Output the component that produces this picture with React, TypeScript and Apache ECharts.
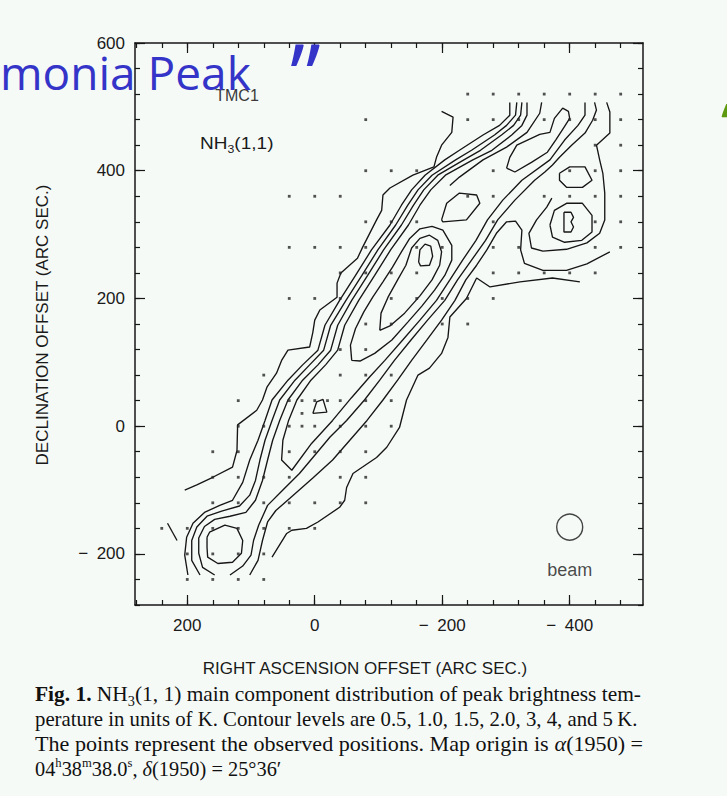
import { useEffect, useRef } from "react";
import * as echarts from "echarts";

// ---- axes (arc sec) ----
const xTicks = [280, 240, 200, 160, 120, 80, 40, 0, -40, -80, -120, -160, -200, -240, -280, -320, -360, -400, -440, -480];
const xLabels = [200, 0, -200, -400];
const yTicks = [-280, -240, -200, -160, -120, -80, -40, 0, 40, 80, 120, 160, 200, 240, 280, 320, 360, 400, 440, 480, 520, 560, 600];
const yLabels = [600, 400, 200, 0, -200];

// ---- contour polylines: [RA offset, Dec offset] ----
const contourOuterLeft = [[204,-100],[185,-92],[160,-80],[129,-64],[122,-38],[121,2],[91,25],[82,41],[75,61],[60,83],[52,103],[42,119],[8,124],[3,147],[0,166],[-8,182],[-35,202],[-35,224],[-41,240],[-67,263],[-75,280],[-97,323],[-105,338],[-107,362],[-118,373],[-154,393],[-187,406],[-191,421],[-199,440],[-215,460],[-217,484],[-199,493]];
const contourOuterRight = [[67,-205],[44,-168],[36,-163],[13,-160],[-5,-150],[-39,-127],[-47,-116],[-50,-96],[-60,-74],[-75,-64],[-97,-49],[-113,-33],[-133,-2],[-144,41],[-162,80],[-180,91],[-199,114],[-209,139],[-212,171],[-238,200],[-254,232],[-275,218],[-322,226],[-373,232],[-416,226]];
const contourLeft1 = [[199,-233],[204,-202],[201,-174],[191,-152],[173,-135],[149,-124],[129,-116],[113,-88],[102,-53],[89,-22],[78,9],[67,41],[42,72],[19,96],[-5,119],[-16,158],[-39,197],[-64,236],[-89,276],[-118,315],[-136,346],[-152,370],[-173,393],[-204,417],[-227,432],[-264,456],[-290,471],[-306,487],[-306,507]];
const contourLeft2 = [[180,-233],[193,-210],[193,-179],[185,-158],[169,-141],[146,-133],[118,-125],[102,-108],[93,-85],[86,-53],[78,-22],[67,9],[55,41],[31,72],[8,96],[-14,119],[-25,158],[-49,197],[-74,236],[-99,276],[-127,315],[-146,346],[-162,370],[-184,393],[-221,417],[-246,432],[-282,456],[-301,471],[-315,487],[-317,507]];
const contourLeft3 = [[157,-233],[176,-221],[182,-199],[182,-175],[173,-157],[157,-146],[133,-141],[108,-135],[93,-116],[82,-85],[74,-53],[66,-22],[55,9],[42,41],[19,72],[-5,96],[-25,119],[-36,158],[-58,197],[-83,236],[-108,276],[-136,315],[-155,346],[-171,370],[-193,393],[-234,417],[-260,432],[-293,456],[-312,471],[-323,487],[-325,507]];
const contourRidgeU = [[-333,507],[-333,487],[-325,471],[-309,456],[-278,432],[-248,417],[-205,393],[-182,370],[-165,346],[-147,315],[-119,276],[-94,236],[-69,197],[-47,158],[-36,119],[-17,96],[6,72],[28,41],[41,9],[50,-22],[52,-53],[36,-69],[5,-27],[-28,9],[-58,45],[-86,77],[-110,103],[-138,135],[-165,166],[-191,197],[-212,229],[-232,260],[-253,291],[-271,323],[-295,354],[-325,385],[-369,417],[-392,448],[-413,471],[-424,487],[-424,507]];
const contourRight2 = [[133,-233],[113,-219],[100,-202],[96,-179],[88,-155],[74,-124],[50,-100],[24,-74],[-3,-42],[-24,-17],[-50,9],[-78,41],[-102,72],[-125,103],[-151,135],[-177,166],[-204,197],[-224,229],[-246,260],[-268,291],[-287,323],[-314,354],[-345,385],[-361,398],[-373,409],[-384,421],[-403,440],[-424,459],[-436,479],[-442,495],[-439,507]];
const contourRight1 = [[102,-233],[89,-210],[82,-179],[74,-150],[61,-132],[39,-113],[3,-81],[-28,-53],[-55,-22],[-82,9],[-107,41],[-130,72],[-152,103],[-176,135],[-199,166],[-220,197],[-237,229],[-254,252],[-270,276],[-285,302],[-301,320],[-315,321],[-325,307],[-323,276],[-329,255],[-358,244],[-395,244],[-427,254],[-463,273]];
const contourKite = [[-301,404],[-306,421],[-317,440],[-353,457],[-369,460],[-376,482],[-389,498],[-398,493],[-400,482],[-391,468],[-378,448],[-365,429],[-340,413],[-314,398],[-301,404]];
const contourUpperArm = [[-212,377],[-227,390],[-264,417],[-301,437],[-333,460],[-353,490],[-356,507]];
const contourRidgeLoop = [[-58,103],[-56,127],[-64,153],[-77,179],[-91,202],[-107,226],[-122,249],[-136,273],[-149,294],[-165,309],[-184,313],[-201,307],[-215,283],[-215,260],[-204,236],[-188,213],[-168,188],[-146,163],[-121,135],[-94,114],[-71,102],[-58,103]];
const contourRidgeInner = [[-102,150],[-104,177],[-115,202],[-130,229],[-143,252],[-152,279],[-165,294],[-180,299],[-193,291],[-199,273],[-196,252],[-184,229],[-165,204],[-141,177],[-118,157],[-102,150]];
const contourSmallPeak = [[-163,257],[-165,276],[-173,285],[-182,282],[-185,266],[-180,252],[-166,251],[-163,257]];
const contourHexA = [[-199,323],[-207,349],[-227,365],[-254,362],[-259,349],[-238,323],[-201,320],[-199,323]];
const contourHexB = [[-384,396],[-400,406],[-424,406],[-435,385],[-420,374],[-395,374],[-384,385],[-384,396]];
const contourBlob = [[-458,507],[-463,492],[-463,459],[-442,440],[-447,417],[-452,396],[-455,365],[-455,323],[-447,302],[-427,287],[-395,277],[-358,274],[-340,279],[-336,302],[-348,323],[-364,343],[-372,357]];
const contourBlobInner = [[-369,315],[-376,338],[-395,349],[-420,349],[-435,330],[-435,304],[-419,291],[-392,288],[-373,296],[-369,315]];
const contourBlobPeak = [[-391,335],[-402,335],[-406,327],[-402,320],[-406,312],[-402,304],[-391,304],[-391,335]];
const contourSouthPeak = [[169,-174],[165,-166],[141,-155],[122,-160],[113,-179],[115,-199],[129,-213],[152,-215],[168,-205],[169,-190],[169,-174]];
const contourTriangle = [[3,20],[-3,38],[-13,42],[-19,22],[3,20]];
const contourFragment = [[231,-152],[216,-179]];

// ---- observed positions ----
const observedPositions = [
  [-240,520],[-280,520],[-320,520],[-360,520],[-400,520],[-440,520],[-480,520],
  [-80,480],[-240,480],[-280,480],[-320,480],[-360,480],[-400,480],[-440,480],[-480,480],
  [-440,440],[-480,440],
  [-80,400],[-120,400],[-160,400],[-280,400],[-400,400],[-440,400],[-480,400],
  [40,360],[0,360],[-40,360],[-240,360],[-280,360],[-360,360],[-400,360],[-440,360],[-480,360],
  [-80,320],[-120,320],[-160,320],[-280,320],[-440,320],[-480,320],
  [40,280],[0,280],[-40,280],[-80,280],[-160,280],[-200,280],[-280,280],[-320,280],[-440,280],[-480,280],
  [-40,240],[-80,240],[-120,240],[-160,240],[-280,240],[-320,240],[-360,240],[-400,240],[-440,240],
  [40,200],[0,200],[-40,200],[-120,200],[-160,200],[-200,200],[-240,200],[-280,200],
  [-80,160],[-120,160],[-200,160],[-240,160],
  [-40,120],[-80,120],
  [80,80],[-40,80],[-80,80],[-120,80],
  [120,40],[40,40],[20,40],[0,40],[-20,40],[-40,40],[-80,40],[-120,40],
  [20,20],
  [120,0],[80,0],[40,0],[20,0],[0,0],[-40,0],[-80,0],[-120,0],
  [160,-40],[120,-40],[40,-40],[0,-40],[-40,-40],[-80,-40],
  [160,-80],[120,-80],[80,-80],[40,-80],[-40,-80],[-80,-80],
  [160,-120],[120,-120],[80,-120],[40,-120],[0,-120],[-40,-120],[-80,-120],
  [240,-160],[200,-160],[160,-160],[120,-160],[80,-160],[40,-160],[0,-160],
  [200,-200],[160,-200],[120,-200],[80,-200],
  [200,-240],[160,-240],[120,-240],[80,-240],
];
const beamCentre = [[-400, -158]];

const contours = [
  contourOuterLeft, contourOuterRight, contourLeft1, contourLeft2, contourLeft3, contourRidgeU,
  contourRight2, contourRight1, contourKite, contourUpperArm, contourRidgeLoop, contourRidgeInner,
  contourSmallPeak, contourHexA, contourHexB, contourBlob, contourBlobInner, contourBlobPeak,
  contourSouthPeak, contourTriangle, contourFragment,
];

const INK = "#161616";
const SANS = "Liberation Sans";
const SERIF = "Liberation Serif";
const fmt = (v: number) => (v < 0 ? "\u2212\u2002" + Math.abs(v) : String(v));

function buildOption() {
  const tickStyle = { color: INK, width: 1.2 };
  const lineStyle = { color: INK, width: 1.5 };
  const xBase = (extra: any) => ({
    type: "value", min: -515, max: 282, inverse: true, gridIndex: 0,
    splitLine: { show: false },
    axisLine: { show: true, onZero: false, lineStyle },
    ...extra,
  });
  const yBase = (extra: any) => ({
    type: "value", min: -280, max: 600, gridIndex: 0,
    splitLine: { show: false },
    axisLine: { show: true, onZero: false, lineStyle },
    ...extra,
  });
  const labelStyle = { fontSize: 17, color: "#1a1a1a", fontFamily: SANS, formatter: fmt };
  const capText = (y: number, sx: number, text: string, rich?: any) => ({
    type: "text", x: 35, y, scaleX: sx,
    style: { text, fontSize: 21, fontFamily: SERIF, fill: "#111", verticalAlign: "middle", rich },
  });
  return {
    animation: false,
    backgroundColor: "#f6faf7",
    grid: { left: 135, top: 43, width: 508, height: 562, containLabel: false },
    xAxis: [
      xBase({ position: "bottom", axisTick: { inside: true, length: 5, customValues: xTicks, lineStyle: tickStyle },
        axisLabel: { ...labelStyle, customValues: xLabels, margin: 12 } }),
      xBase({ position: "bottom", axisLine: { show: false, onZero: false },
        axisTick: { inside: true, length: 10, customValues: xLabels, lineStyle: tickStyle }, axisLabel: { show: false } }),
      xBase({ position: "top", axisTick: { inside: true, length: 5, customValues: xTicks, lineStyle: tickStyle }, axisLabel: { show: false } }),
      xBase({ position: "top", axisLine: { show: false, onZero: false },
        axisTick: { inside: true, length: 10, customValues: xLabels, lineStyle: tickStyle }, axisLabel: { show: false } }),
    ],
    yAxis: [
      yBase({ position: "left", axisTick: { inside: true, length: 5, customValues: yTicks, lineStyle: tickStyle },
        axisLabel: { ...labelStyle, customValues: yLabels, margin: 10 } }),
      yBase({ position: "left", axisLine: { show: false, onZero: false },
        axisTick: { inside: true, length: 10, customValues: yLabels, lineStyle: tickStyle }, axisLabel: { show: false } }),
      yBase({ position: "right", axisTick: { inside: true, length: 5, customValues: yTicks, lineStyle: tickStyle }, axisLabel: { show: false } }),
      yBase({ position: "right", axisLine: { show: false, onZero: false },
        axisTick: { inside: true, length: 10, customValues: yLabels, lineStyle: tickStyle }, axisLabel: { show: false } }),
    ],
    series: [
      ...contours.map((data) => ({
        type: "line", data, xAxisIndex: 0, yAxisIndex: 0, symbol: "none", showSymbol: false,
        lineStyle: { color: INK, width: 1.35 }, silent: true, z: 3,
      })),
      {
        type: "scatter", data: observedPositions, xAxisIndex: 0, yAxisIndex: 0,
        symbol: "rect", symbolSize: 2.8, itemStyle: { color: "#262626" }, silent: true, z: 4,
      },
      {
        type: "scatter", data: beamCentre, xAxisIndex: 0, yAxisIndex: 0,
        symbol: "circle", symbolSize: 26,
        itemStyle: { color: "rgba(0,0,0,0)", borderColor: INK, borderWidth: 1.4 },
        label: { show: true, position: "bottom", distance: 20, formatter: "beam", fontSize: 18, color: "#1a1a1a", fontFamily: SANS },
        silent: true, z: 4,
      },
    ],
    graphic: [
      { type: "text", x: 365, y: 668, style: { text: "RIGHT ASCENSION OFFSET (ARC SEC.)", fontSize: 17, fontFamily: SANS, fill: "#1a1a1a", align: "center", verticalAlign: "middle" } },
      { type: "text", x: 42, y: 325, rotation: Math.PI / 2, style: { text: "DECLINATION OFFSET (ARC SEC.)", fontSize: 17, fontFamily: SANS, fill: "#1a1a1a", align: "center", verticalAlign: "middle" } },
      { type: "text", x: 237, y: 95, style: { text: "TMC1", fontSize: 16, fontFamily: SANS, fill: "#3a3a3a", align: "center", verticalAlign: "middle" } },
      { type: "text", x: 200, y: 143, scaleX: 1.12, style: {
        text: "NH{s|3}(1,1)", fontSize: 17, fontFamily: SANS, fill: "#1a1a1a", verticalAlign: "middle",
        rich: { s: { fontSize: 11, fontFamily: SANS, fill: "#1a1a1a", verticalAlign: "bottom", lineHeight: 22 } },
      } },
      capText(694, 1.02, "{b|Fig. 1.} NH{s|3}(1, 1) main component distribution of peak brightness tem-", {
        b: { fontSize: 21, fontFamily: SERIF, fontWeight: "bold", fill: "#111" },
        s: { fontSize: 14, fontFamily: SERIF, fill: "#111", verticalAlign: "bottom", lineHeight: 28 },
      }),
      capText(719, 0.99, "perature in units of K. Contour levels are 0.5, 1.0, 1.5, 2.0, 3, 4, and 5\u2009K."),
      capText(744, 1.053, "The points represent the observed positions. Map origin is {i|\u03B1}(1950) =", {
        i: { fontSize: 21, fontFamily: SERIF, fontStyle: "italic", fill: "#111" },
      }),
      capText(769, 0.97, "04{u|h}38{u|m}38.0{u|s}, {i|\u03B4}(1950) = 25\u00B036\u2032", {
        u: { fontSize: 13, fontFamily: SERIF, fill: "#111", verticalAlign: "top", lineHeight: 26 },
        i: { fontSize: 21, fontFamily: SERIF, fontStyle: "italic", fill: "#111" },
      }),
      { type: "text", x: 0, y: 72, z: 100, style: { text: "monia Peak", fontSize: 46, fontFamily: "Open Sans", fill: "#3434c8", verticalAlign: "middle" } },
      { type: "text", x: 290, y: 73, z: 100, style: { text: "\u201D", fontSize: 88, fontFamily: "Open Sans", fill: "#3434c8", verticalAlign: "middle" } },
      { type: "text", x: 721, y: 122, z: 100, style: { text: "\u201C", fontSize: 54, fontFamily: "Open Sans", fontWeight: "bold", fill: "#5e9a10", verticalAlign: "middle" } },
    ],
  };
}

export default function App() {
  const ref = useRef<HTMLDivElement>(null);
  useEffect(() => {
    if (!ref.current) return;
    const chart = echarts.init(ref.current, undefined, { renderer: "svg" });
    chart.setOption(buildOption() as any);
    return () => chart.dispose();
  }, []);
  return (
    <div
      ref={ref}
      style={{ position: "fixed", left: 0, top: 0, width: 727, height: 796, background: "#f6faf7" }}
    />
  );
}
